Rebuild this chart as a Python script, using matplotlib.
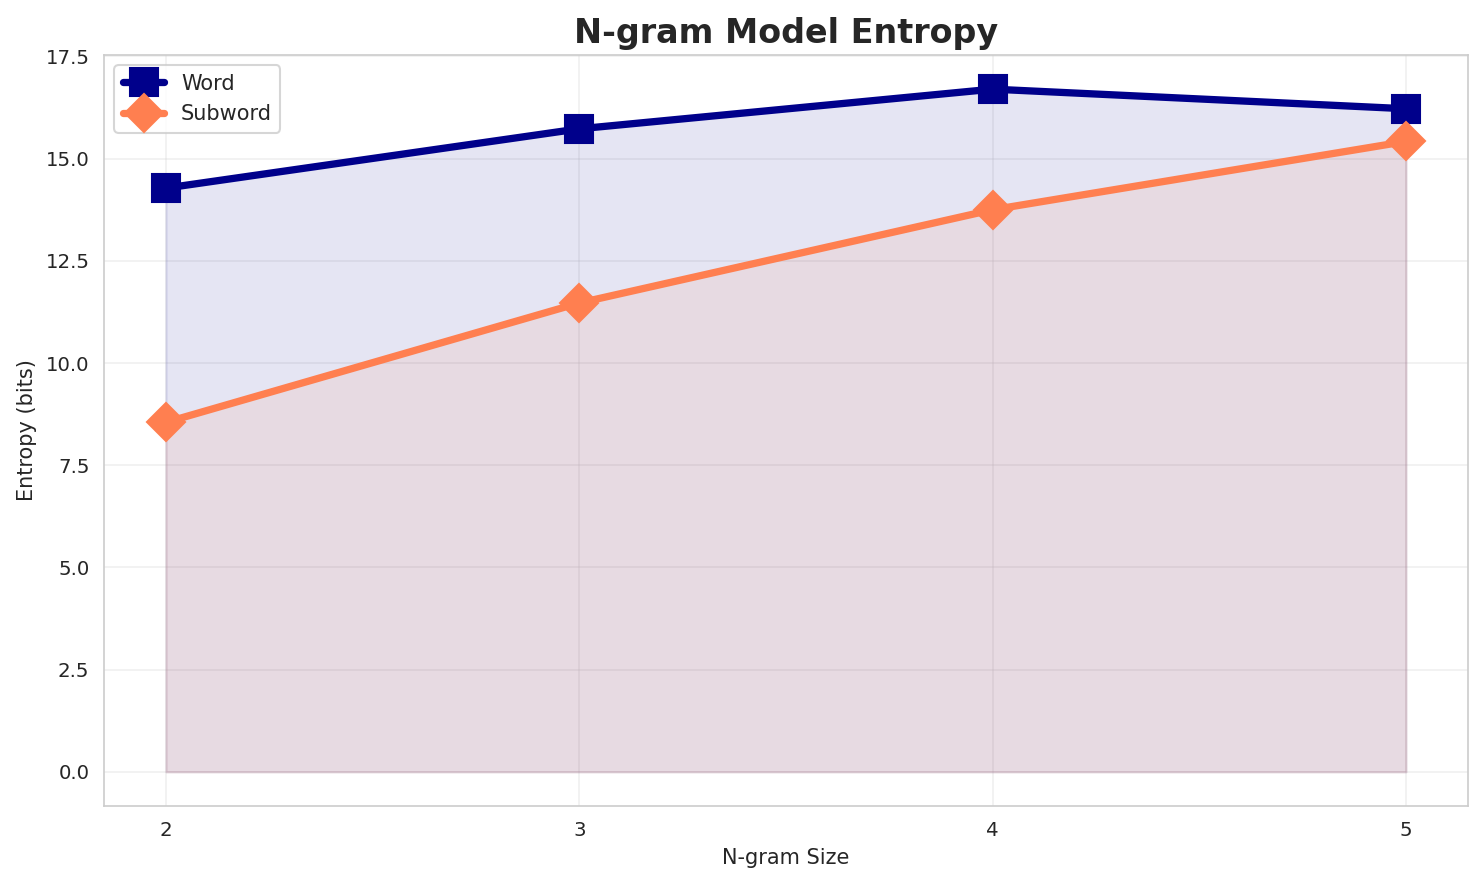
import matplotlib
matplotlib.use("Agg")
import matplotlib.pyplot as plt
import seaborn as sns

sns.set_style("whitegrid")
plt.rcParams['font.family'] = ['DejaVu Sans']

# values
ngram_sizes = [2, 3, 4, 5]
word_entropy = [14.28, 15.73, 16.70, 16.22]
subword_entropy = [8.55, 11.47, 13.75, 15.42]

fig = plt.figure(figsize=(1484 / 150, 885 / 150), dpi=150)
ax = fig.add_axes([104 / 1484, 1 - 806 / 885, (1468 - 104) / 1484, (806 - 55) / 885])

ax.fill_between(ngram_sizes, 0, word_entropy, color="darkblue", alpha=0.1)
ax.fill_between(ngram_sizes, 0, subword_entropy, color="coral", alpha=0.1)
ax.plot(ngram_sizes, word_entropy, color="darkblue", marker="s", markersize=13,
        linewidth=3.5, label="Word")
ax.plot(ngram_sizes, subword_entropy, color="coral", marker="D", markersize=13,
        linewidth=3.5, label="Subword")

ax.set_title("N-gram Model Entropy", fontsize=16, fontweight="bold")
ax.set_xlabel("N-gram Size", fontsize=10)
ax.set_ylabel("Entropy (bits)", fontsize=10)
ax.set_xticks(ngram_sizes)
ax.tick_params(labelsize=9.5)
ax.grid(True, alpha=0.3)
ax.legend(loc="upper left", fontsize=10)

fig.savefig("out.png", dpi=150)
